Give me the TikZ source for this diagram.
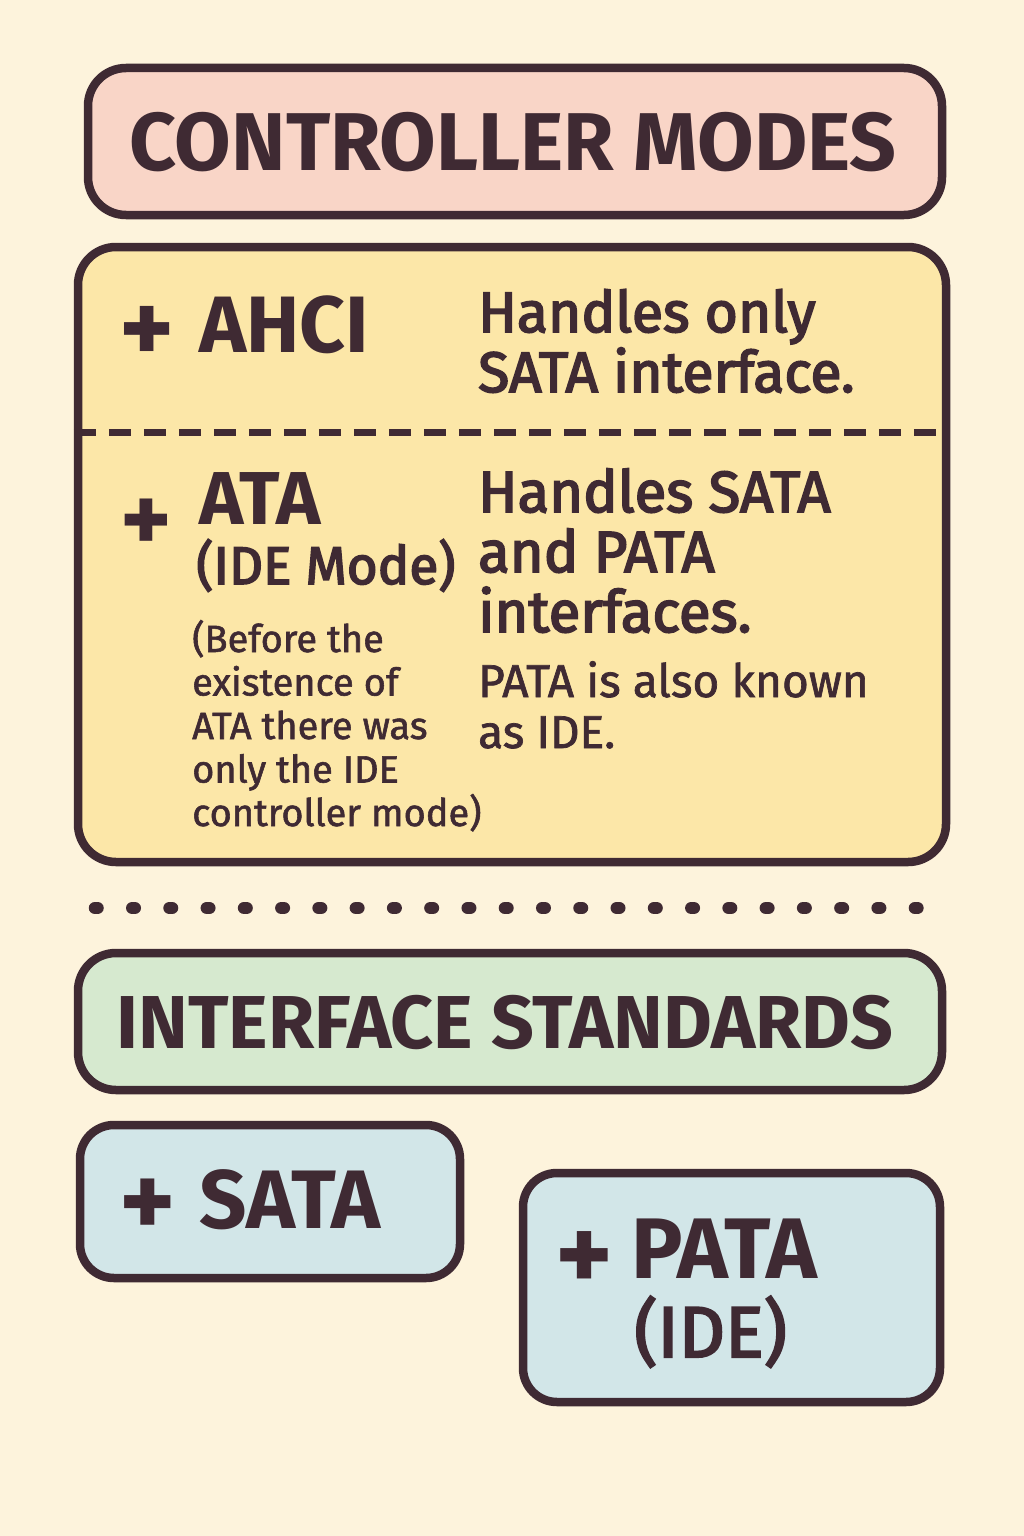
\documentclass[tikz,border=0pt]{standalone}
\usepackage{fontspec}
\setmainfont{Fira Sans}
\newfontfamily\medf[FakeBold=3]{Fira Sans}
\newfontfamily\regf[FakeBold=1.5]{Fira Sans}
\usetikzlibrary{calc}
\definecolor{paper}{HTML}{FDF3DC}
\definecolor{ink}{HTML}{3F2A33}
\definecolor{pinkbox}{HTML}{F9D5C7}
\definecolor{yellowbox}{HTML}{FCE7A8}
\definecolor{greenbox}{HTML}{D6E9CF}
\definecolor{bluebox}{HTML}{D2E6E8}
\newcommand{\bigplus}{\scalebox{1.3}{+}}
\tikzset{
  panel/.style={draw=ink, line width=8.5pt, rounded corners=38pt, inner sep=0pt},
  heading/.style={text=ink, inner sep=0pt, anchor=base},
  txt/.style={text=ink, inner sep=0pt, anchor=base west},
  sep/.style={draw=ink, line width=7pt, dash pattern=on 22pt off 13pt},
  dots/.style={draw=ink, line width=12.5pt, line cap=round, dash pattern=on 2.5pt off 34.77pt}
}
\begin{document}
\begin{tikzpicture}[x=1pt, y=-1pt]
  \useasboundingbox (0,0) rectangle (1024,1536);
  \fill[paper] (0,0) rectangle (1024,1536);

  % top heading
  \node[panel, fill=pinkbox, minimum width=854pt, minimum height=147pt] (title) at (515,141.5) {};
  \node[heading, font=\bfseries\fontsize{82}{90}\selectfont] (titletext) at (513,170) {CONTROLLER MODES};

  % controller mode panel
  \node[panel, fill=yellowbox, minimum width=868pt, minimum height=615pt] (modes) at (512,554.5) {};
  \coordinate (sepL) at (modes.west |- 0,432);
  \coordinate (sepR) at ([xshift=-8pt]modes.east |- 0,432);
  \draw[sep] (sepL) -- (sepR);

  % AHCI row
  \node[txt, font=\bfseries\fontsize{80}{80}\selectfont] (ahciplus) at (119,363) {\bigplus};
  \node[txt, font=\bfseries\fontsize{80}{80}\selectfont] (ahci) at (199,352) {AHCI};
  \node[txt, font=\medf\fontsize{57}{60}\selectfont, align=left] (ahcidesc) at (478,392)
    {Handles only\\SATA interface.};

  % ATA row
  \node[txt, font=\bfseries\fontsize{75}{75}\selectfont] (ataplus) at (120,552) {\bigplus};
  \node[txt, font=\bfseries\fontsize{75}{75}\selectfont] (ata) at (199,524) {ATA};
  \node[txt, font=\medf\fontsize{53}{55}\selectfont] (idemode) at (196,584) {(IDE Mode)};
  \node[txt, font=\regf\fontsize{38}{43.5}\selectfont, align=left] (atanote) at (192,826)
    {(Before the\\existence of\\ATA there was\\only the IDE\\controller mode)};
  \node[txt, font=\medf\fontsize{58}{60}\selectfont, align=left] (atadesc) at (478,632)
    {Handles SATA\\and PATA\\interfaces.};
  \node[txt, font=\regf\fontsize{46}{51}\selectfont, align=left] (patanote) at (478,748)
    {PATA is also known\\as IDE.};

  % dotted divider
  \coordinate (dotL) at (95,908);
  \coordinate (dotR) at (920,908);
  \draw[dots] (dotL) -- (dotR);

  % interface standards
  \node[panel, fill=greenbox, minimum width=864pt, minimum height=137pt] (std) at (510,1021.5) {};
  \node[heading, font=\bfseries\fontsize{75}{80}\selectfont] (stdtext) at (505,1048) {INTERFACE STANDARDS};

  \node[panel, fill=bluebox, minimum width=380pt, minimum height=153pt, rounded corners=34pt] (sata) at (270,1201.5) {};
  \node[txt, font=\bfseries\fontsize{82}{82}\selectfont] (sataplus) at (119,1237) {\bigplus};
  \node[txt, font=\bfseries\fontsize{83}{83}\selectfont] (satatext) at (199,1228) {SATA};

  \node[panel, fill=bluebox, minimum width=417pt, minimum height=229pt, rounded corners=34pt] (pata) at (731.5,1287.5) {};
  \node[txt, font=\bfseries\fontsize{84}{84}\selectfont] (pataplus) at (555,1291) {\bigplus};
  \node[txt, font=\bfseries\fontsize{86}{86}\selectfont] (patatext) at (631,1278) {PATA};
  \node[txt, font=\medf\fontsize{72}{72}\selectfont] (pataide) at (634,1357) {(IDE)};
\end{tikzpicture}
\end{document}
